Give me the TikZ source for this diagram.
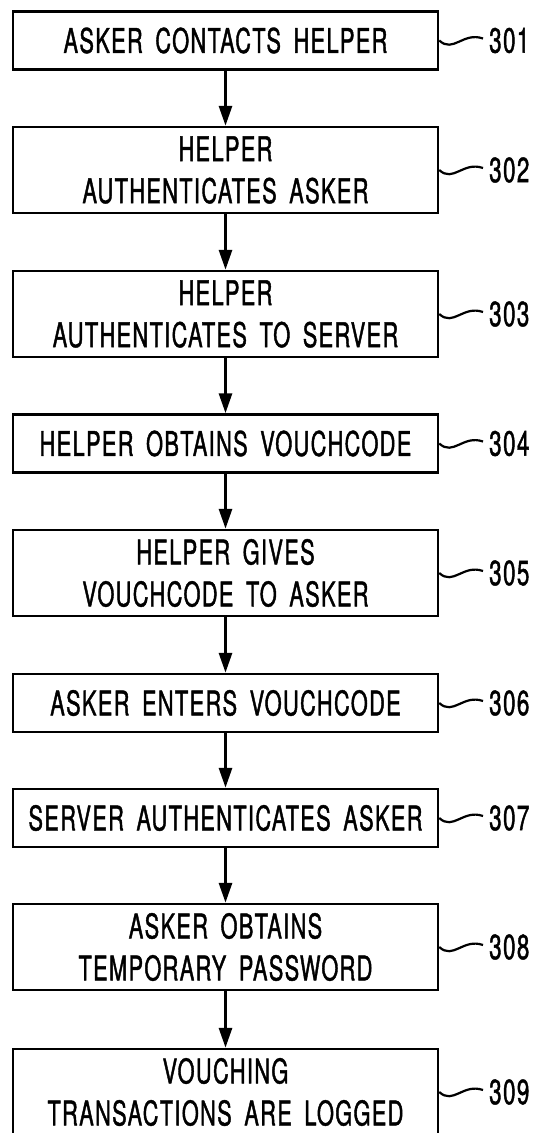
\documentclass[tikz,border=0pt]{standalone}
\usepackage{fontspec}
\setmainfont{TeX Gyre Heros}[FakeStretch=0.64, LetterSpace=4, WordSpace=1.7, FakeBold=1.2]
\usetikzlibrary{arrows.meta}
\begin{document}
\begin{tikzpicture}[x=1pt,y=1pt,
  box/.style={draw, line width=2.5pt, minimum width=425pt, align=center, inner sep=0pt,
    font=\fontsize{34}{42}\selectfont},
  one/.style={box, minimum height=58pt},
  two/.style={box, minimum height=86pt},
  lbl/.style={anchor=west, inner sep=0pt, font=\fontsize{35}{40}\selectfont},
  arr/.style={line width=3pt, -{Triangle[length=20pt,width=13pt]}},
  sq/.style={line width=2.2pt}]
\useasboundingbox (0,0) rectangle (539,-1133);
\node[one] (b1) at (225.5,-40.5) {ASKER CONTACTS HELPER};
\node[two] (b2) at (225.5,-170) {HELPER\\AUTHENTICATES ASKER};
\node[two] (b3) at (225.5,-314) {HELPER\\AUTHENTICATES TO SERVER};
\node[one] (b4) at (225.5,-443.5) {HELPER OBTAINS VOUCHCODE};
\node[two] (b5) at (225.5,-573) {HELPER GIVES\\VOUCHCODE TO ASKER};
\node[one] (b6) at (225.5,-703) {ASKER ENTERS VOUCHCODE};
\node[one] (b7) at (225.5,-818) {SERVER AUTHENTICATES ASKER};
\node[two] (b8) at (225.5,-947) {ASKER OBTAINS\\TEMPORARY PASSWORD};
\node[two] (b9) at (225.5,-1092) {VOUCHING\\TRANSACTIONS ARE LOGGED};
\foreach \i/\y in {1/-40.5,2/-170,3/-314,4/-443.5,5/-573,6/-703,7/-818,8/-947,9/-1092}{
  \node[lbl] (l\i) at (489,\y) {30\i};
  \draw[sq] (b\i.east) .. controls +(14pt,-13pt) and +(-20pt,7pt) .. ([xshift=-6pt,yshift=2pt]l\i.west);
}
\foreach \a/\b in {1/2,2/3,3/4,4/5,5/6,6/7,7/8,8/9}{
  \draw[arr] (b\a) -- (b\b);
}
\end{tikzpicture}
\end{document}
